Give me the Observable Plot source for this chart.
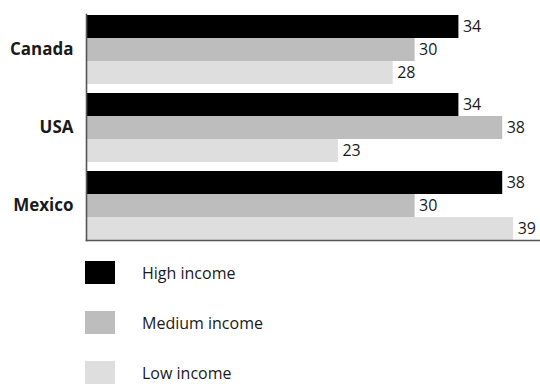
<!DOCTYPE html>
<html><head><meta charset="utf-8">
<script src="https://cdn.jsdelivr.net/npm/d3@7"></script>
<script src="https://cdn.jsdelivr.net/npm/@observablehq/plot@0.6"></script>
<style>
body{margin:0;background:#fff;font-family:"Open Sans",sans-serif;color:#1a1a1a;}
#legend{margin-top:16px;}
.row{display:flex;align-items:center;height:23px;margin-bottom:27px;}
.sw{width:30px;height:23px;margin-left:85px;margin-right:27px;}
.lab{font-size:16px;}
</style></head><body><div id="chart"></div><div id="legend"></div><script>
const countries = ["Canada","USA","Mexico"];
const incomes = ["High income","Medium income","Low income"];
const high = [34,34,38];
const medium = [30,38,30];
const low = [28,23,39];
const colors = ["#000000","#bdbdbd","#dedede"];
const series = [high, medium, low];
const data = countries.flatMap((c,i)=>incomes.map((inc,j)=>({country:c, income:inc, value:series[j][i]})));
const plot = Plot.plot({
  width:540, height:245, marginTop:8, marginBottom:0, marginLeft:86, marginRight:0,
  style:{fontFamily:"Open Sans", fontSize:"16px", background:"white", color:"#1a1a1a"},
  x:{domain:[0,41.45], axis:null},
  y:{domain:incomes, padding:0, axis:null},
  fy:{domain:countries, paddingInner:0.108, paddingOuter:0.064, axis:null},
  color:{domain:incomes, range:colors},
  marks:[
    Plot.barX(data,{x:"value", y:"income", fy:"country", fill:"income"}),
    Plot.text(data,{x:"value", y:"income", fy:"country", text:d=>String(d.value), textAnchor:"start", dx:4, fill:"#1a1a1a", fontSize:16}),
    Plot.axisFy({anchor:"left", label:null, tickSize:0, tickPadding:13, fontWeight:"bold", fontSize:17, fill:"#1a1a1a"}),
    Plot.frame({facet:"super", anchor:"left", stroke:"#555", strokeWidth:1.6}),
    Plot.frame({facet:"super", anchor:"bottom", stroke:"#555", strokeWidth:1.6})
  ]
});
document.getElementById("chart").appendChild(plot);
const color = plot.scale("color");
const leg = d3.select("#legend");
incomes.forEach(inc=>{
  const r = leg.append("div").attr("class","row");
  r.append("div").attr("class","sw").style("background", color.apply(inc));
  r.append("div").attr("class","lab").text(inc);
});
</script></body></html>
